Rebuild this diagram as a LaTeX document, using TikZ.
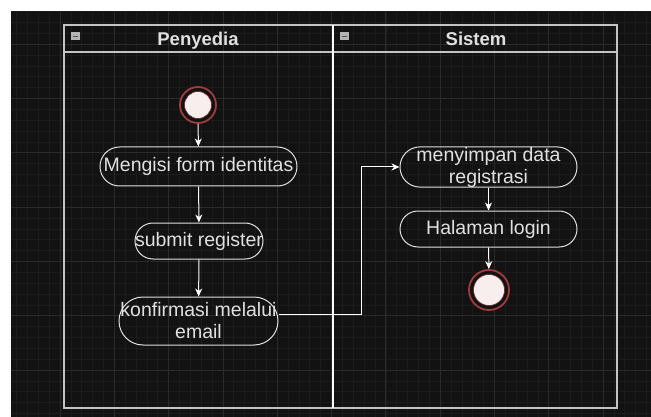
\documentclass[tikz,border=0pt]{standalone}
\usepackage{fontspec}
\setmainfont{Liberation Sans}
\usetikzlibrary{arrows.meta}
\definecolor{bg}{HTML}{121212}
\definecolor{gridminor}{HTML}{1B1B1B}
\definecolor{gridmajor}{HTML}{2A2A2A}
\definecolor{framec}{HTML}{C4C4C4}
\definecolor{txt}{HTML}{E0E0E0}
\definecolor{ringred}{HTML}{A03C3C}
\definecolor{startfill}{HTML}{F8EEEE}
\definecolor{iconc}{HTML}{B4B4B4}
\begin{document}
\begin{tikzpicture}[x=1pt,y=-1pt,
  act/.style={draw=txt, line width=1pt, rectangle, inner sep=0pt, text=txt,
    font=\fontsize{19.5}{22}\selectfont, align=center},
  terminal/.style={circle, minimum size=#1, inner sep=0pt, draw=ringred, line width=1.8pt, fill=bg,
    path picture={\fill[startfill, draw=ringred!70!black, line width=0.6pt] (path picture bounding box.center) circle ({#1/2-4.5pt});}},
  lanehead/.style={text=txt, font=\fontsize{18.5}{21}\selectfont\bfseries, anchor=base},
  flow/.style={draw=white, line width=1pt, -{Stealth[length=8pt,width=7pt,inset=2.5pt]}},
  laneicon/.style={fill=iconc, draw=none}
]
% background
\useasboundingbox (0,0) rectangle (651,417);
\fill[white] (0,0) rectangle (651,417);
\fill[bg] (11,12) rectangle (651,417);
\begin{scope}
  \clip (11,12) rectangle (651,417);
  \foreach \i in {-5,...,55} {
    \pgfmathsetmacro\xx{60+10.86*\i}
    \draw[gridminor, line width=0.6pt] (\xx,12) -- (\xx,417);
  }
  \foreach \j in {-4,...,36} {
    \pgfmathsetmacro\yy{44.2+10.86*\j}
    \draw[gridminor, line width=0.6pt] (11,\yy) -- (651,\yy);
  }
  \foreach \i in {-1,...,11} {
    \pgfmathsetmacro\xx{60+54.3*\i}
    \draw[gridmajor, line width=0.8pt] (\xx,12) -- (\xx,417);
  }
  \foreach \j in {-1,...,7} {
    \pgfmathsetmacro\yy{44.2+54.3*\j}
    \draw[gridmajor, line width=0.8pt] (11,\yy) -- (651,\yy);
  }
\end{scope}

% swimlane frame
\draw[framec, line width=1.6pt] (64,25) rectangle (617,408);
\draw[framec, line width=1.6pt] (64,52) -- (617,52);
\draw[white, line width=1.1pt] (333,25) -- (333,408);
\fill[laneicon] (71,32) rectangle (80,40);
\draw[bg!60!iconc, line width=0.6pt] (73,36) -- (78,36);
\fill[laneicon] (340,32) rectangle (349,40);
\draw[bg!60!iconc, line width=0.6pt] (342,36) -- (347,36);
\node[lanehead] (hp) at (198,45.5) {Penyedia};
\node[lanehead] (hs) at (476,45.5) {Sistem};

% nodes
\node[terminal=36pt] (start) at (198,105) {};
\node[act, minimum width=197pt, minimum height=39pt, rounded corners=19.5pt] (isi) at (198.5,166.5) {Mengisi form identitas};
\node[act, minimum width=128pt, minimum height=36pt, rounded corners=18pt] (submit) at (199,241) {submit register};
\node[act, minimum width=159pt, minimum height=48pt, rounded corners=24pt] (konf) at (198.5,321) {konfirmasi melalui\\email};
\node[act, minimum width=177pt, minimum height=40pt, rounded corners=20pt] (simpan) at (488.5,167) {menyimpan data\\registrasi};
\node[act, minimum width=177pt, minimum height=36pt, rounded corners=18pt] (login) at (488.5,229) {Halaman login};
\node[terminal=40pt] (end) at (489,290) {};

% connectors
\draw[flow] (start) -- (isi);
\draw[flow] (isi) -- (submit);
\draw[flow] (submit) -- (konf);
\coordinate (bend1) at (361,314);
\coordinate (bend2) at (361,167);
\draw[flow] ([yshift=7pt]konf.east) -- (bend1) -- (bend2) -- (simpan.west);
\draw[flow] (simpan.south -| login.north) -- (login);
\draw[flow] (login) -- (end);
\end{tikzpicture}
\end{document}
